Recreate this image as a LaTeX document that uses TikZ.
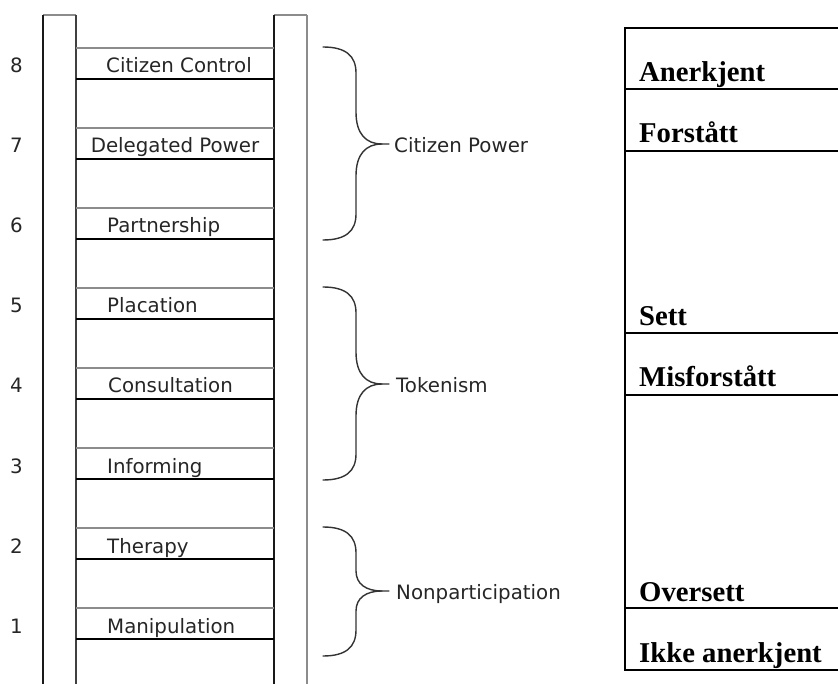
\documentclass[tikz,border=0pt]{standalone}
\usepackage{fontspec}
\setmainfont{DejaVu Sans}
\newfontfamily\tnr{Liberation Serif}
\begin{document}
\begin{tikzpicture}[x=1pt,y=-1pt,
  lab/.style={inner sep=0pt, font=\fontsize{19.8}{22}\selectfont, text=black!85},
  cell/.style={inner sep=0pt, anchor=base west, font=\tnr\bfseries\fontsize{28.7}{32}\selectfont},
  raildark/.style={line width=2pt, black!90},
  raillight/.style={line width=1.4pt, black!45},
  railmid/.style={line width=1.4pt, black!75},
  rungtop/.style={line width=1.5pt, black!45},
  rungbot/.style={line width=2pt, black},
  brace/.style={line width=1.4pt, black!80, line cap=round},
  tbl/.style={line width=2pt, black}]
\useasboundingbox (0,0) rectangle (838,684);
% rails
\draw[raillight] (43,15) -- (76,15);
\draw[raillight] (274,15) -- (307,15);
\draw[raildark] (43,15) -- (43,684);
\draw[railmid] (76,15) -- (76,684);
\draw[raildark] (274,15) -- (274,684);
\draw[raillight] (307,15) -- (307,684);
% rungs
\foreach \g in {48,128,208,288,368,448,528,608}{
  \draw[rungtop] (76,\g) -- (274,\g);
  \pgfmathsetmacro{\gb}{\g+31}
  \draw[rungbot] (76,\gb) -- (274,\gb);
}
% numbers
\foreach \i/\b in {8/73,7/153,6/233,5/313,4/393,3/473,2/553,1/633}{
  \node[lab, anchor=base] (n\i) at (16.5,\b) {\i};
}
% rung labels
\node[lab, anchor=base west] (r8) at (106,73) {Citizen Control};
\node[lab, anchor=base] (r7) at (175,153) {Delegated Power};
\node[lab, anchor=base west] (r6) at (107,233) {Partnership};
\node[lab, anchor=base west] (r5) at (107,313) {Placation};
\node[lab, anchor=base west] (r4) at (108,393) {Consultation};
\node[lab, anchor=base west] (r3) at (107,473) {Informing};
\node[lab, anchor=base west] (r2) at (107,553) {Therapy};
\node[lab, anchor=base west] (r1) at (107,633) {Manipulation};
% braces
\draw[brace] (323,47) .. controls (346,47) and (356,56) .. (356,73) -- (356,112) .. controls (356,134) and (366,144) .. (382,144) -- (389,144);
\draw[brace] (382,144) .. controls (366,144) and (356,154) .. (356,176) -- (356,214) .. controls (356,231) and (346,240) .. (323,240);
\draw[brace] (323,287) .. controls (346,287) and (356,296) .. (356,313) -- (356,352) .. controls (356,374) and (366,384) .. (382,384) -- (389,384);
\draw[brace] (382,384) .. controls (366,384) and (356,394) .. (356,416) -- (356,454) .. controls (356,471) and (346,480) .. (323,480);
\draw[brace] (323,527) .. controls (346,527) and (356,536) .. (356,553) -- (356,571) .. controls (356,584) and (366,591) .. (382,591) -- (389,591);
\draw[brace] (382,591) .. controls (366,591) and (356,598) .. (356,611) -- (356,630) .. controls (356,647) and (346,656) .. (323,656);
\node[lab, anchor=base west] (g1) at (394,153) {Citizen Power};
\node[lab, anchor=base west] (g2) at (396,392) {Tokenism};
\node[lab, anchor=base west] (g3) at (396,599) {Nonparticipation};
% table
\draw[tbl] (839,28) -- (625,28) -- (625,670) -- (839,670);
\foreach \y in {89,151,333,395,608}{
  \draw[tbl] (625,\y) -- (839,\y);
}
\node[cell] (t1) at (639,82) {Anerkjent};
\node[cell] (t2) at (639,143) {Forstått};
\node[cell] (t3) at (639,326) {Sett};
\node[cell] (t4) at (639,387) {Misforstått};
\node[cell] (t5) at (639,601) {Oversett};
\node[cell] (t6) at (639,662) {Ikke anerkjent};
\end{tikzpicture}
\end{document}
